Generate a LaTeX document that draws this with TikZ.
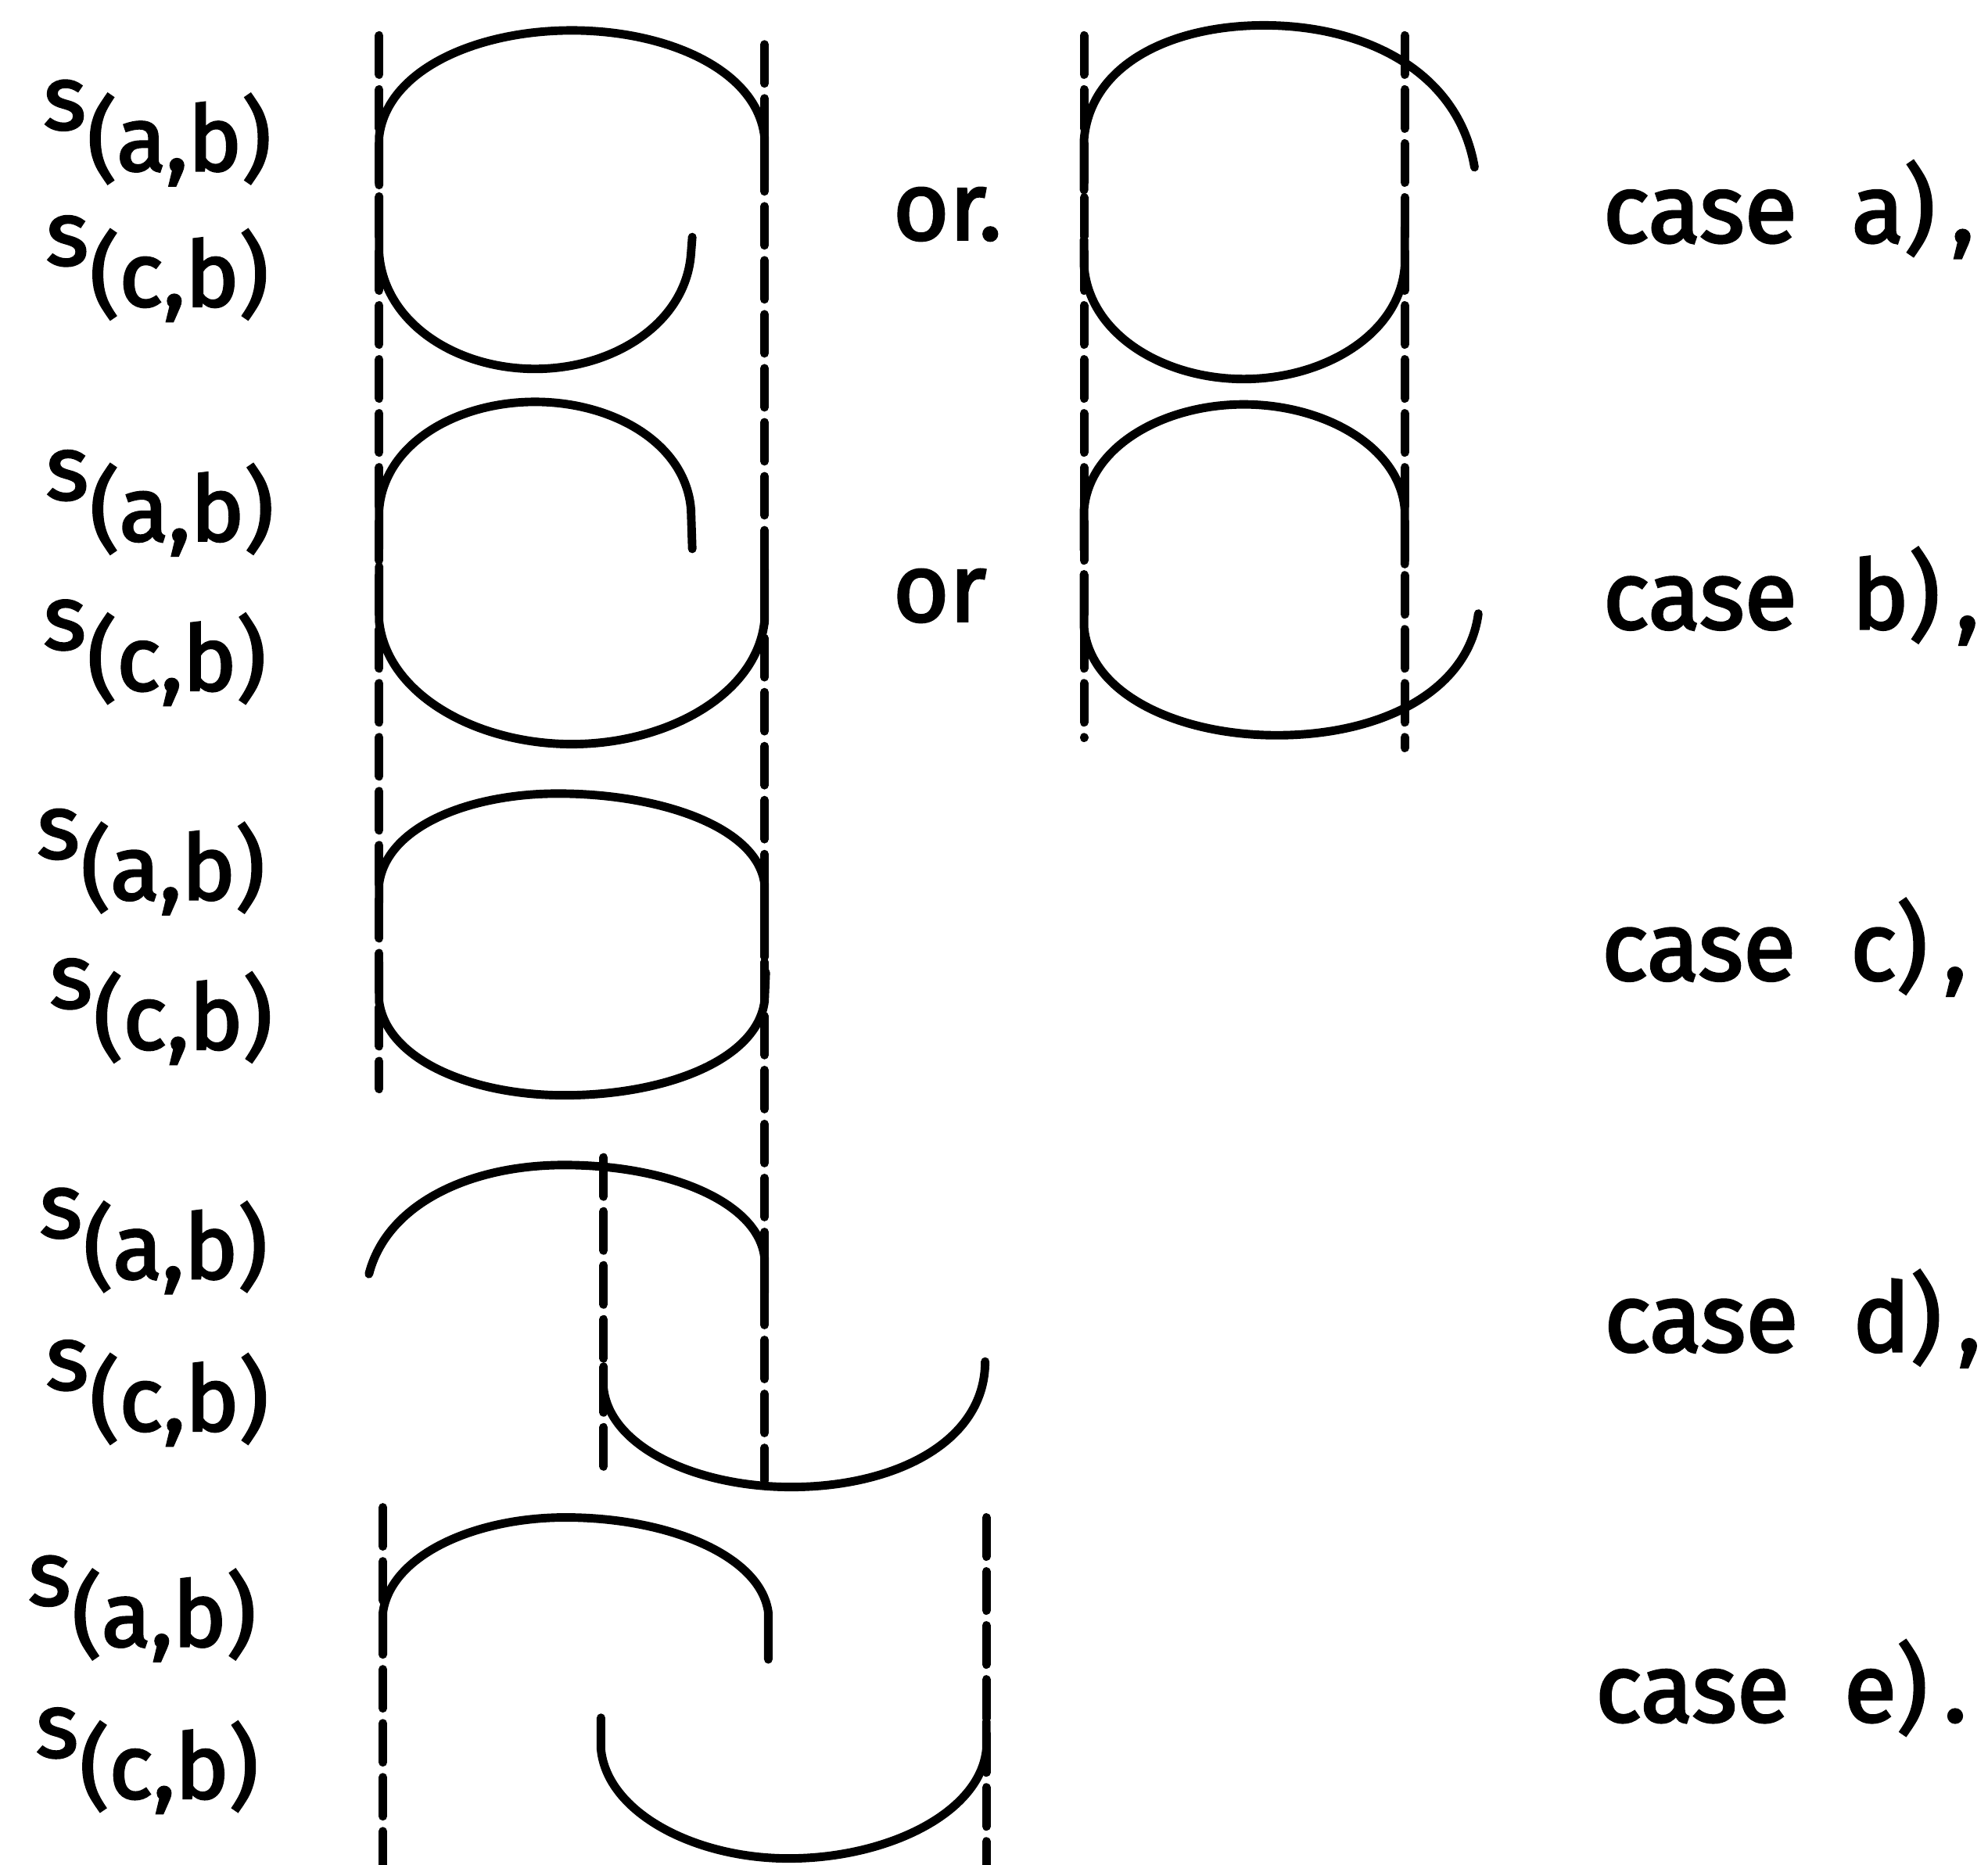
\documentclass[tikz,border=0pt]{standalone}
\usepackage{fontspec}
\newfontfamily\lblfont{Fira Sans}[FakeBold=2.5]
\newcommand\idx[1]{\kern0.5pt\raisebox{-15pt}{#1}}
\tikzset{
  lbl/.style={anchor=base west, inner sep=0pt, font=\lblfont\fontsize{35}{40}\selectfont},
  slbl/.style={lbl, font=\lblfont\fontsize{33}{38}\selectfont},
  guide/.style={dash pattern=on 0.5cm off 0.19cm},
}
\begin{document}
\begin{tikzpicture}[x=0.016212cm, y=-0.016212cm, line width=3.1pt, line cap=round]
\useasboundingbox (0,0) rectangle (1568,1471);
\path
coordinate (P1) at (299,28)
coordinate (P2) at (299,859)
coordinate (Q1) at (603,35)
coordinate (Q2) at (603,1168)
coordinate (R1) at (855,28)
coordinate (R2) at (855,582)
coordinate (S1) at (1108,28)
coordinate (S2) at (1108,590)
coordinate (T1) at (476,913)
coordinate (T2) at (476,1168)
coordinate (U1) at (302,1189)
coordinate (U2) at (302,1471)
coordinate (V1) at (778,1197)
coordinate (V2) at (778,1471)
;
\draw [guide] (P1)--(P2) (Q1)--(Q2) (R1)--(R2) (S1)--(S2) (T1)--(T2) (U1)--(U2) (V1)--(V2);
% case a
\draw (299,146) -- (299,108) .. controls (305,55) and (376,24) .. (451,24) .. controls (526,24) and (597,55) .. (603,108) -- (603,142);
\draw (299,155) -- (299,200) .. controls (303,255) and (360,291) .. (422,291) .. controls (484,291) and (541,255) .. (545,200) -- (546,187);
\draw (855,150) -- (855,110) .. controls (860,50) and (925,20) .. (997,20) .. controls (1075,20) and (1150,55) .. (1163,132);
\draw (855,189) -- (855,210) .. controls (859,264) and (918,299) .. (981,299) .. controls (1044,299) and (1104,264) .. (1108,210) -- (1108,179);
% case b
\draw (299,433) -- (299,402) .. controls (303,350) and (360,317) .. (422,317) .. controls (484,317) and (541,350) .. (545,402) -- (546,433);
\draw (299,447) -- (299,490) .. controls (305,548) and (376,587) .. (451,587) .. controls (526,587) and (597,548) .. (603,490) -- (603,449);
\draw (855,434) -- (855,402) .. controls (859,352) and (918,319) .. (981,319) .. controls (1044,319) and (1104,352) .. (1108,402) -- (1108,445);
\draw (855,453) -- (855,495) .. controls (860,548) and (930,580) .. (1007,580) .. controls (1090,580) and (1158,545) .. (1166,484);
% case c
\draw (299,712) -- (299,697) .. controls (305,652) and (370,626) .. (440,626) .. controls (520,626) and (597,652) .. (603,697) -- (603,755);
\draw (299,759) -- (299,790) .. controls (305,836) and (372,864) .. (445,864) .. controls (525,864) and (597,836) .. (603,790) -- (604,767);
% case d
\draw (291,1005) .. controls (305,950) and (370,919) .. (445,919) .. controls (527,919) and (598,948) .. (603,992) -- (603,1020);
\draw (476,1078) -- (476,1095) .. controls (481,1142) and (550,1173) .. (624,1173) .. controls (705,1173) and (777,1138) .. (777,1074);
% case e
\draw (302,1305) -- (302,1272) .. controls (308,1227) and (374,1197) .. (446,1197) .. controls (527,1197) and (600,1227) .. (606,1272) -- (606,1309);
\draw (474,1355) -- (474,1380) .. controls (479,1430) and (548,1466) .. (622,1466) .. controls (700,1466) and (773,1430) .. (778,1380) -- (778,1358);
\node[slbl] (sab1) at (31,102) {s\idx{(a,b)}};
\node[slbl] (scb1) at (33,209) {s\idx{(c,b)}};
\node[slbl] (sab2) at (33,394) {s\idx{(a,b)}};
\node[slbl] (scb2) at (31,512) {s\idx{(c,b)}};
\node[slbl] (sab3) at (26,677) {s\idx{(a,b)}};
\node[slbl] (scb3) at (36,795) {s\idx{(c,b)}};
\node[slbl] (sab4) at (28,976) {s\idx{(a,b)}};
\node[slbl] (scb4) at (33,1096) {s\idx{(c,b)}};
\node[slbl] (sab5) at (19,1266) {s\idx{(a,b)}};
\node[slbl] (scb5) at (25,1386) {s\idx{(c,b)}};
\node[lbl] (or1) at (701,189) {or.};
\node[lbl] (or2) at (701,490) {or};
\node[lbl] (casea) at (1261,191) {case\hspace{0.7cm}a)\,,};
\node[lbl] (caseb) at (1261,496) {case\hspace{0.7cm}b)\,,};
\node[lbl] (casec) at (1260,773) {case\hspace{0.7cm}c)\,,};
\node[lbl] (cased) at (1262,1066) {case\hspace{0.7cm}d)\,,};
\node[lbl] (casee) at (1255,1358) {case\hspace{0.7cm}e)\,.};
\end{tikzpicture}
\end{document}
